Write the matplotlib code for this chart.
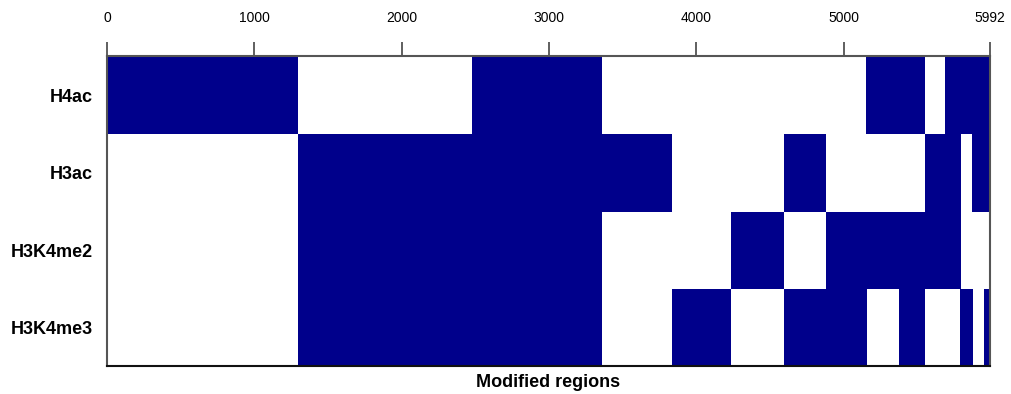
import matplotlib
matplotlib.use('Agg')
import matplotlib.pyplot as plt

plt.rcParams['font.family'] = ['Liberation Sans', 'DejaVu Sans']

# modified regions per mark, (start, end) along the 5992 bp window
marks = ['H4ac', 'H3ac', 'H3K4me2', 'H3K4me3']
regions = {
    'H4ac': [(0, 1296), (2477, 3359), (5151, 5551), (5687, 5992)],
    'H3ac': [(1296, 3834), (4594, 4879), (5551, 5795), (5870, 5992)],
    'H3K4me2': [(1296, 3359), (4234, 4594), (4879, 5795)],
    'H3K4me3': [(1296, 3359), (3834, 4234), (4594, 5157), (5375, 5551),
                (5789, 5877), (5951, 5992)],
}
total_len = 5992
tick_vals = [0, 1000, 2000, 3000, 4000, 5000, 5992]

fig = plt.figure(figsize=(10.12, 3.94), dpi=100)
ax = fig.add_axes([0.1057, 0.0711, 0.8726, 0.7878])

for i, m in enumerate(marks):
    segs = [(s, e - s) for s, e in regions[m]]
    ax.broken_barh(segs, (i, 1), facecolors='#00008B', edgecolor='none')

ax.set_xlim(0, total_len)
ax.set_ylim(len(marks), -0.02)

ax.set_yticks([i + 0.5 for i in range(len(marks))])
ax.set_yticklabels(marks, fontsize=13, fontweight='bold')
ax.tick_params(axis='y', length=0, pad=10)

# position axis on top
ax.xaxis.tick_top()
ax.set_xticks(tick_vals)
ax.set_xticklabels([str(v) for v in tick_vals], fontsize=10)
ax.tick_params(axis='x', direction='out', length=10, width=1.2,
               color='#444', pad=12)

for side in ['left', 'top', 'right']:
    ax.spines[side].set_color('#555')
    ax.spines[side].set_linewidth(1.5)
ax.spines['bottom'].set_color('#111')
ax.spines['bottom'].set_linewidth(1.5)

fig.text(0.542, 0.03, 'Modified regions', ha='center', va='center',
         fontsize=13, fontweight='bold')

fig.savefig('out.png', dpi=100)
